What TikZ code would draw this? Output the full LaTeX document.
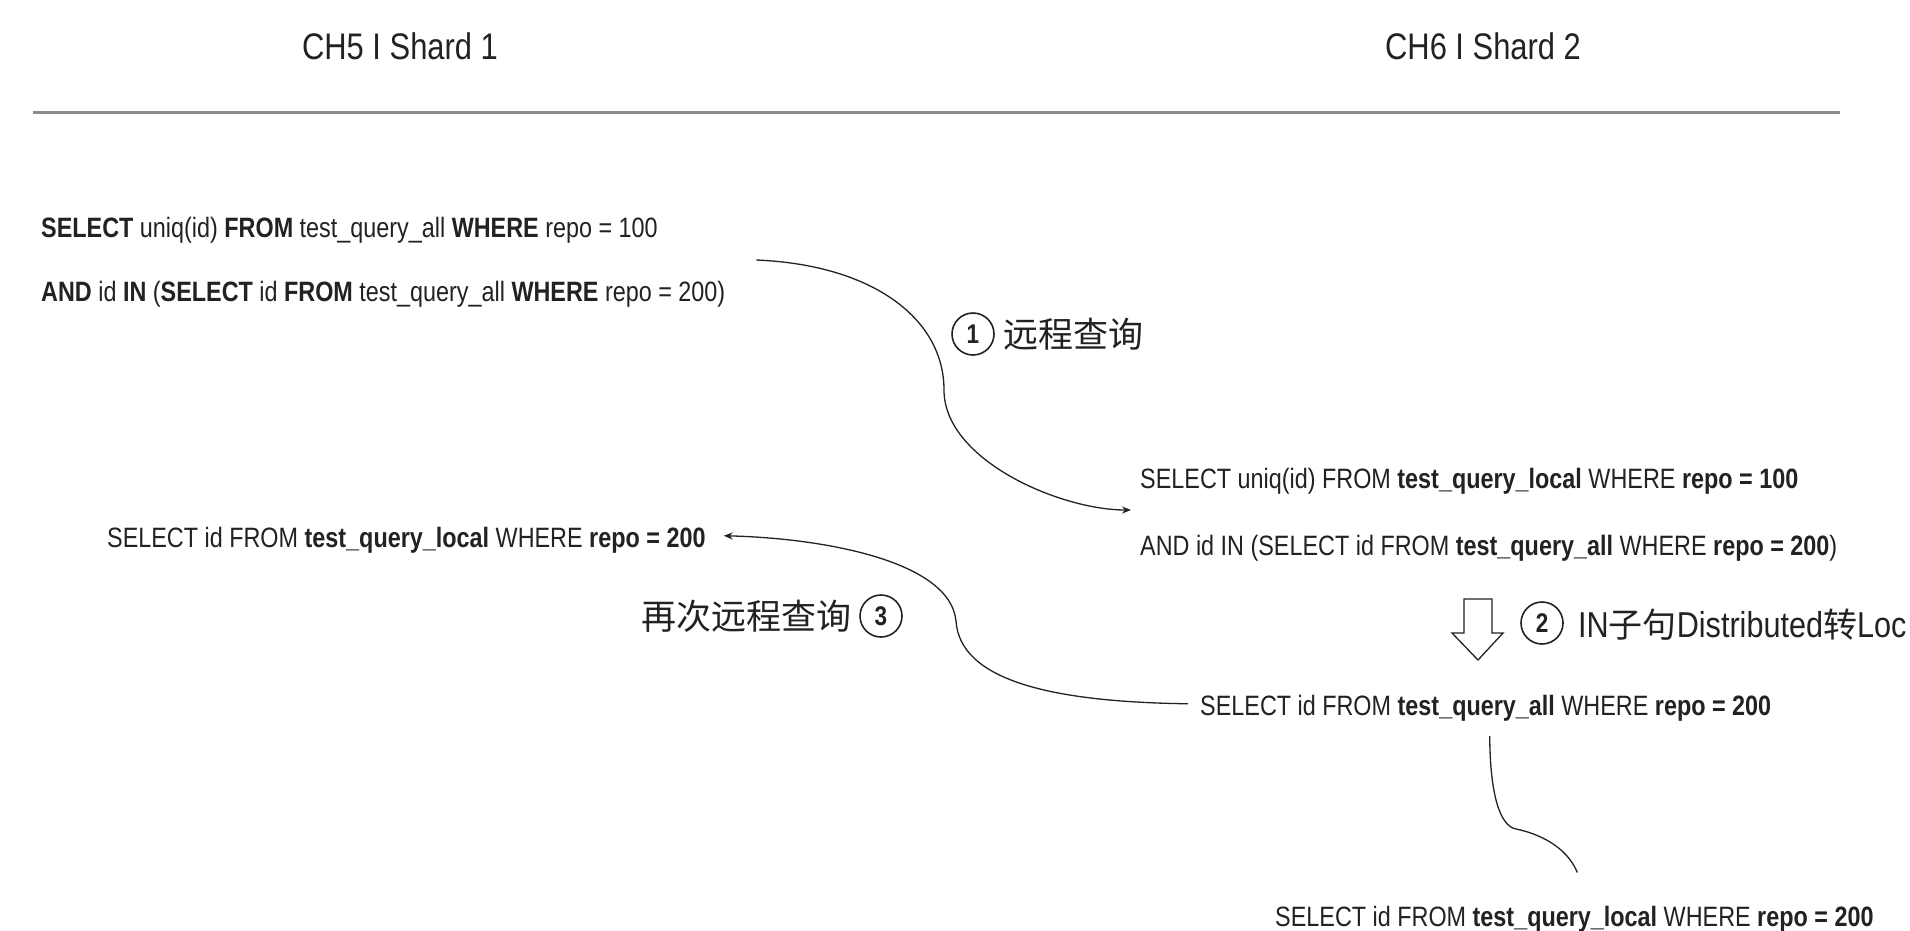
\documentclass[tikz,border=0pt]{standalone}
\usepackage{fontspec}
\setmainfont{Liberation Sans}[FakeStretch=0.835]
\newfontfamily\labelfont{Liberation Sans}[FakeStretch=0.85]
\newfontfamily\cjk{Noto Sans CJK SC}
\usetikzlibrary{arrows.meta,calc}
\definecolor{ink}{HTML}{222222}
\definecolor{rule}{HTML}{8A8A8A}
\begin{document}
\begin{tikzpicture}[x=1pt,y=-1pt,
  every node/.style={inner sep=0pt, text=ink},
  q/.style={font=\fontsize{28}{64}\selectfont, align=left},
  qr/.style={font=\fontsize{28}{67}\selectfont, align=left},
  title/.style={font=\fontsize{37}{40}\selectfont},
  conn/.style={draw=ink, line width=1.3pt},
  tip/.style={-{Stealth[length=9pt,width=7pt]}},
  num/.style={circle, draw=ink, line width=1.6pt, minimum size=42pt, font=\fontsize{27}{27}\selectfont\bfseries},
  cjklabel/.style={font=\fontsize{35}{40}\selectfont\cjk},
]
\useasboundingbox (0,0) rectangle (1910,930);
\fill[white] (0,0) rectangle (1910,930);

\node[title] (t1) at (400,46) {CH5 I Shard 1};
\node[title] (t2) at (1483,46) {CH6 I Shard 2};
\draw[draw=rule, line width=3pt] (33,112) -- (1840,112);

\node[q, anchor=west] (lq) at (41,262) {\textbf{SELECT} uniq(id) \textbf{FROM} test\_query\_all \textbf{WHERE} repo = 100\\\textbf{AND} id \textbf{IN} (\textbf{SELECT} id \textbf{FROM} test\_query\_all \textbf{WHERE} repo = 200)};

\node[qr, anchor=west] (rq) at (1140,515) {SELECT uniq(id) FROM \textbf{test\_query\_local} WHERE \textbf{repo = 100}\\AND id IN (SELECT id FROM \textbf{test\_query\_all} WHERE \textbf{repo = 200})};

\node[q, anchor=base west] (lm) at (107,547) {SELECT id FROM \textbf{test\_query\_local} WHERE \textbf{repo = 200}};
\node[q, anchor=base west] (q3) at (1200,715) {SELECT id FROM \textbf{test\_query\_all} WHERE \textbf{repo = 200}};
\node[q, anchor=base west] (q4) at (1275,926) {SELECT id FROM \textbf{test\_query\_local} WHERE \textbf{repo = 200}};

\node[num] (n1) at (973,334) {1};
\node[cjklabel, anchor=west] (l1) at (1003,334) {远程查询};
\node[num] (n3) at (881,616) {3};
\node[cjklabel, anchor=east] (l3) at (852,616) {再次远程查询};
\node[num] (n2) at (1542,623) {2};
\node[anchor=west, font=\fontsize{36}{38}\selectfont\labelfont] (l2) at (1578,625) {IN{\fontsize{34}{36}\selectfont\cjk 子句}Distributed{\fontsize{34}{36}\selectfont\cjk 转}Loc};

% hollow down arrow
\coordinate (ha) at (1478,599);
\draw[draw=ink, line width=1.3pt, fill=white] ($(ha)+(-14,0)$) -- ($(ha)+(14,0)$) -- ($(ha)+(14,34)$) -- ($(ha)+(25,34)$) -- ($(ha)+(0,61)$) -- ($(ha)+(-26,34)$) -- ($(ha)+(-14,34)$) -- cycle;

% connectors
\draw[conn, tip] ($(lq.east)+(31,-2)$) .. controls (875,265) and (944,320) .. (944,390) .. controls (944,460) and (1060,510) .. ($(rq.west)+(-9,-5)$);
\draw[conn, tip] ($(q3.west)+(-12,-4)$) .. controls (1050,702) and (960,680) .. (956,621) .. controls (950,560) and (820,538) .. ($(lm.east)+(18,-4)$);
\draw[conn] ($(q3.south)+(4,15)$) .. controls (1490,795) and (1500,826) .. (1516,829) .. controls (1536,833) and (1566,845) .. ($(q4.north)+(3,-33)$);
\end{tikzpicture}
\end{document}
